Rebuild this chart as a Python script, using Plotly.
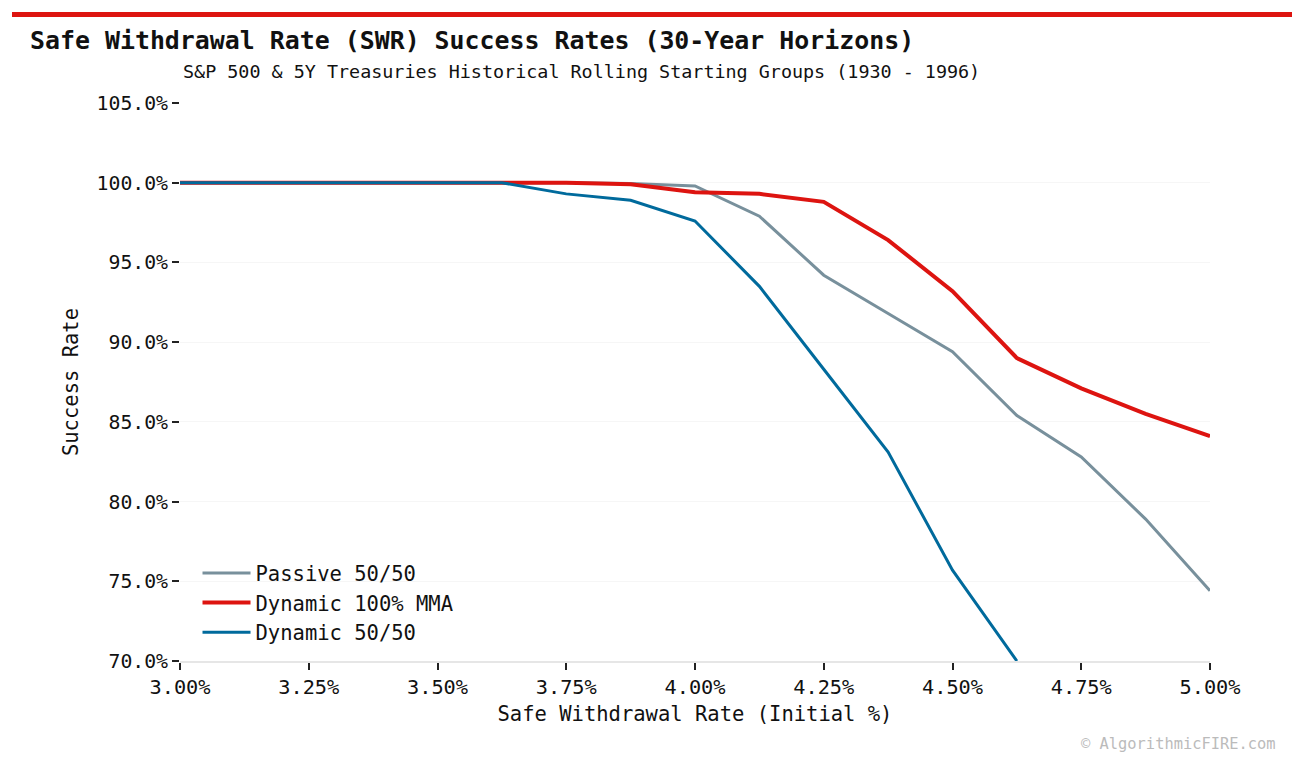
import plotly.graph_objects as go

# ---- data ----
swr_rates = [3.0, 3.125, 3.25, 3.375, 3.5, 3.625, 3.75, 3.875, 4.0,
             4.125, 4.25, 4.375, 4.5, 4.625, 4.75, 4.875, 5.0]
passive_5050 = [100.0, 100.0, 100.0, 100.0, 100.0, 100.0, 100.0, 99.95, 99.8,
                97.9, 94.2, 91.8, 89.4, 85.4, 82.8, 78.9, 74.4]
dynamic_mma = [100.0, 100.0, 100.0, 100.0, 100.0, 100.0, 100.0, 99.9, 99.4,
               99.3, 98.8, 96.4, 93.2, 89.0, 87.1, 85.5, 84.1]
dynamic_5050 = [100.0, 100.0, 100.0, 100.0, 100.0, 100.0, 99.3, 98.9, 97.6,
                93.5, 88.3, 83.1, 75.7, 70.0, None, None, None]

x_ticks = [3.0, 3.25, 3.5, 3.75, 4.0, 4.25, 4.5, 4.75, 5.0]
y_ticks = [70, 75, 80, 85, 90, 95, 100, 105]

FONT = "DejaVu Sans Mono"
GRAY = "#78909c"
RED = "#dd1410"
BLUE = "#006a9c"

fig = go.Figure()
fig.add_trace(go.Scatter(x=swr_rates, y=passive_5050, mode="lines", name="Passive 50/50",
                         legendgroup="a", line=dict(color=GRAY, width=3)))
fig.add_trace(go.Scatter(x=swr_rates, y=dynamic_mma, mode="lines", name="Dynamic 100% MMA",
                         legendgroup="b", line=dict(color=RED, width=4)))
fig.add_trace(go.Scatter(x=swr_rates, y=dynamic_5050, mode="lines", name="Dynamic 50/50",
                         legendgroup="c", line=dict(color=BLUE, width=3)))

fig.update_layout(
    width=1305, height=767,
    paper_bgcolor="white", plot_bgcolor="white",
    margin=dict(l=180, r=95, t=103, b=106),
    font=dict(family=FONT, size=20, color="#111111"),
    showlegend=True,
    legend=dict(x=0.017, y=0.016, xanchor="left", yanchor="bottom",
                bgcolor="rgba(255,255,255,0)", font=dict(size=20.5, color="#111111"),
                traceorder="grouped", tracegroupgap=0, itemwidth=48),
    xaxis=dict(range=[3.0, 5.0], tickvals=x_ticks,
               ticktext=[f"{v:.2f}%" for v in x_ticks],
               showgrid=False, zeroline=False,
               showline=True, linecolor="#e6e6e6", linewidth=2,
               ticks="outside", ticklen=7, tickcolor="#222222", tickwidth=1.5,
               tickfont=dict(size=20.3),
               title=dict(text="Safe Withdrawal Rate (Initial %)", font=dict(size=20.5), standoff=8)),
    yaxis=dict(range=[70, 105], tickvals=y_ticks,
               ticktext=[f"{v:.1f}%" for v in y_ticks],
               showgrid=True, gridcolor="#f6f6f6", gridwidth=1,
               zeroline=False, showline=False,
               ticks="outside", ticklen=7, tickcolor="#222222", tickwidth=1.5,
               tickfont=dict(size=19.8),
               title=dict(text="Success Rate", font=dict(size=20.5), standoff=12)),
)

# red bar at top
fig.add_shape(type="line", xref="paper", yref="paper",
              x0=-168/1030, x1=1112/1030, y0=(661-14.5)/558, y1=(661-14.5)/558,
              line=dict(color=RED, width=5))

fig.add_annotation(text="<b>Safe Withdrawal Rate (SWR) Success Rates (30-Year Horizons)</b>",
                   xref="paper", yref="paper", x=(28-180)/1030, y=(661-41)/558,
                   xanchor="left", yanchor="middle", showarrow=False,
                   font=dict(family=FONT, size=24.9, color="#111111"))
fig.add_annotation(text="S&P 500 & 5Y Treasuries Historical Rolling Starting Groups (1930 - 1996)",
                   xref="paper", yref="paper", x=(181-180)/1030, y=(661-72)/558,
                   xanchor="left", yanchor="middle", showarrow=False,
                   font=dict(family=FONT, size=18.4, color="#111111"))
fig.add_annotation(text="© AlgorithmicFIRE.com",
                   xref="paper", yref="paper", x=(1278-180)/1030, y=(661-744)/558,
                   xanchor="right", yanchor="middle", showarrow=False,
                   font=dict(family=FONT, size=15.4, color="#bbbbbb"))

fig.write_html("out.html")
